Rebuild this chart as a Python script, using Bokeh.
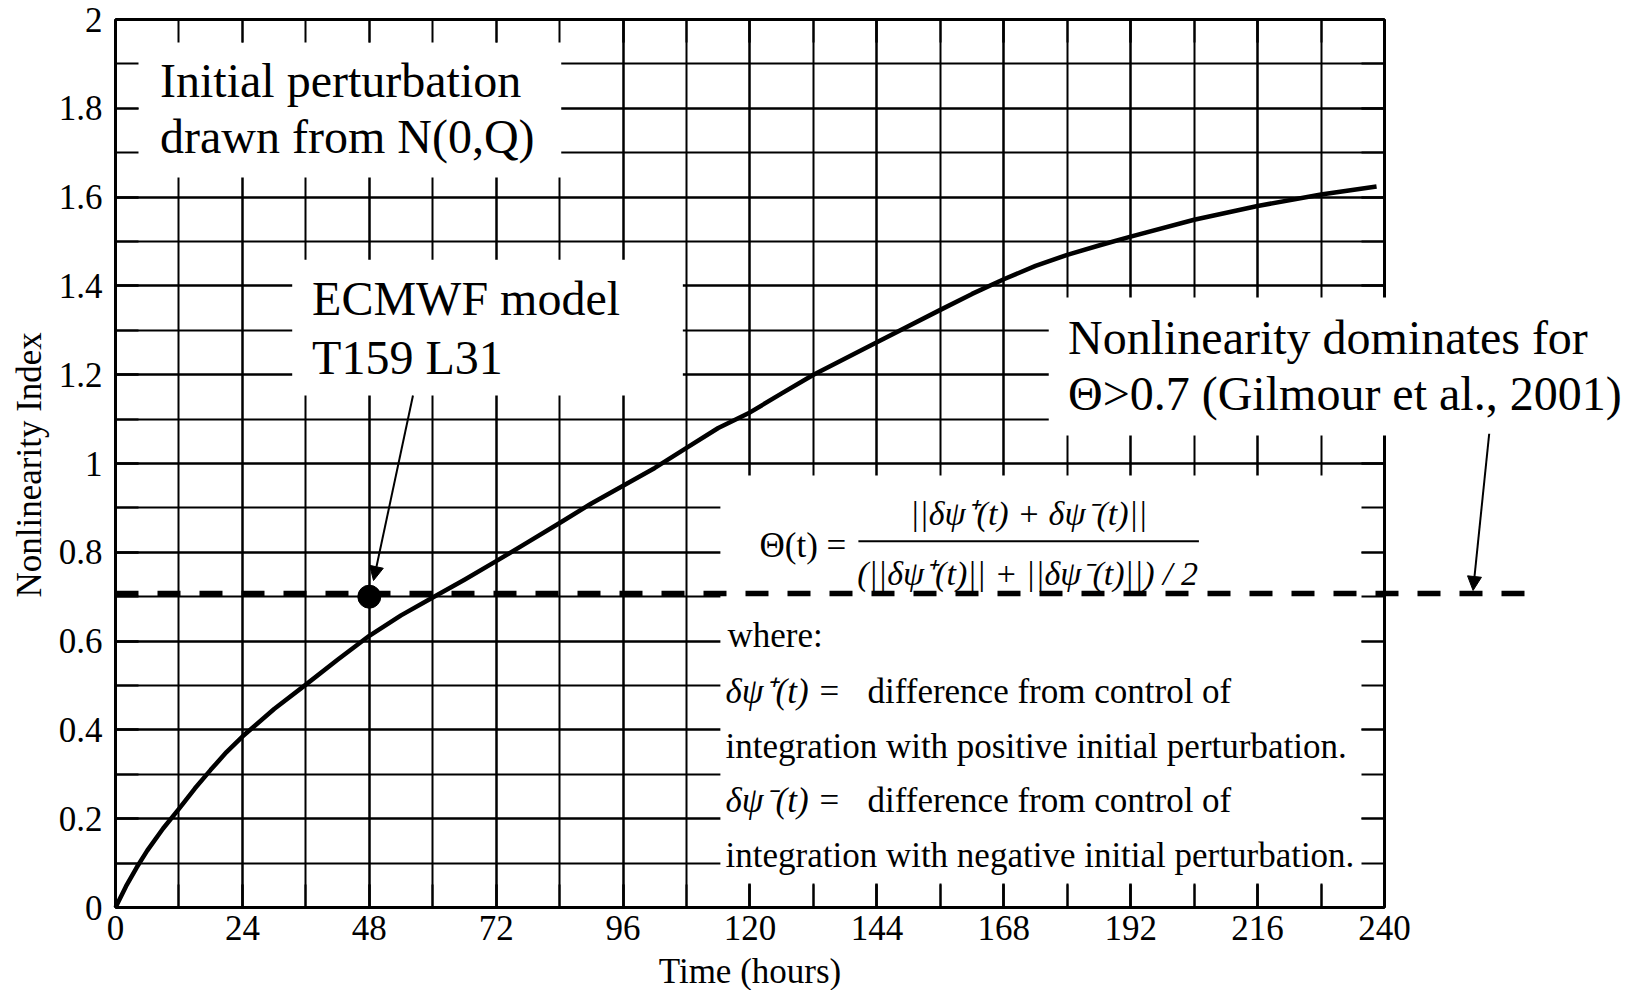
import math
from bokeh.plotting import figure
from bokeh.models import (LinearAxis, Range1d, SingleIntervalTicker, Label, Arrow,
                          NormalHead, BoxAnnotation, CustomJSTickFormatter)
from bokeh.embed import file_html
from bokeh.resources import INLINE

# ---------------- data ----------------
hours = [0, 2, 4, 6, 9, 12, 15, 18, 21, 24, 30, 36, 42, 48, 54, 60, 66, 72, 78, 84, 90, 96,
         102, 108, 114, 120, 126, 132, 144, 156, 162, 168, 174, 180, 186, 192, 204, 216, 228, 238.5]
nonlinearity_index = [0, 0.048, 0.09, 0.128, 0.178, 0.222, 0.268, 0.31, 0.35, 0.385, 0.447,
                      0.502, 0.558, 0.612, 0.658, 0.698, 0.738, 0.78, 0.823, 0.866, 0.91, 0.95,
                      0.99, 1.035, 1.08, 1.115, 1.158, 1.2, 1.273, 1.346, 1.382, 1.415, 1.445,
                      1.47, 1.491, 1.511, 1.549, 1.58, 1.606, 1.624]
threshold_index = 0.707
threshold_extent_hours = [0, 267]
ecmwf_point_hour = [48]
ecmwf_point_index = [0.70]

x_min, x_max = 0, 240
y_min, y_max = 0, 2
x_major_step, y_major_step = 24, 0.2
x_title = "Time (hours)"
y_title = "Nonlinearity Index"

FONT = "Liberation Serif"

# the frame spans the whole page; the axes are pinned at the data limits
p = figure(frame_width=1636, frame_height=990, output_backend="svg", toolbar_location=None,
           x_range=Range1d(-21.7494, 287.66), y_range=Range1d(-0.186937, 2.042793),
           min_border=0)
p.outline_line_color = None
p.background_fill_color = "white"
p.border_fill_color = "white"

xt = SingleIntervalTicker(interval=x_major_step, num_minor_ticks=2)
yt = SingleIntervalTicker(interval=y_major_step, num_minor_ticks=2)

bottom_axis = p.below[0]
left_axis = p.left[0]
bottom_axis.ticker = xt
bottom_axis.bounds = (x_min, x_max)
bottom_axis.fixed_location = y_min
left_axis.ticker = yt
left_axis.bounds = (y_min, y_max)
left_axis.fixed_location = x_min
left_axis.formatter = CustomJSTickFormatter(code="return tick.toFixed(1).replace(/\\.0$/, '');")

top_axis = LinearAxis(ticker=xt, bounds=(x_min, x_max), fixed_location=y_max,
                      formatter=CustomJSTickFormatter(code="return '';"))
right_axis = LinearAxis(ticker=yt, bounds=(y_min, y_max), fixed_location=x_max,
                        formatter=CustomJSTickFormatter(code="return '';"))
p.add_layout(top_axis, "above")
p.add_layout(right_axis, "right")

for ax in [bottom_axis, left_axis, top_axis, right_axis]:
    ax.axis_label = None
    ax.major_tick_in = 23
    ax.major_tick_out = 0
    ax.minor_tick_in = 23
    ax.minor_tick_out = 0
    ax.major_tick_line_width = 2
    ax.minor_tick_line_width = 2
    ax.major_tick_line_color = "black"
    ax.minor_tick_line_color = "black"
    ax.axis_line_width = 3
    ax.axis_line_color = "black"
    ax.major_label_text_font = FONT
    ax.major_label_text_font_size = "35px"
    ax.major_label_text_color = "black"

for ax in [top_axis, right_axis]:
    ax.major_label_text_font_size = "0px"
    ax.major_label_standoff = 0

bottom_axis.major_label_standoff = 8
left_axis.major_label_standoff = 13

xg, yg = p.xgrid[0], p.ygrid[0]
xg.ticker = xt
xg.bounds = (x_min, x_max)
yg.ticker = yt
yg.bounds = (y_min, y_max)
for g in [xg, yg]:
    g.grid_line_color = "black"
    g.grid_line_width = 2
    g.minor_grid_line_color = "black"
    g.minor_grid_line_width = 2

# keep the grid inside the plotting rectangle
try:
    xg.cross_bounds = (y_min, y_max)
    yg.cross_bounds = (x_min, x_max)
except AttributeError:
    FAR_L, FAR_R, FAR_B, FAR_T = -100, 400, -1, 3
    for l, r, b, t in [(FAR_L, x_min, FAR_B, FAR_T), (x_max, FAR_R, FAR_B, FAR_T),
                       (FAR_L, FAR_R, FAR_B, y_min), (FAR_L, FAR_R, y_max, FAR_T)]:
        p.add_layout(BoxAnnotation(left=l, right=r, bottom=b, top=t, fill_color="white",
                                   fill_alpha=1, line_color=None, level="underlay"))

# white text boxes that interrupt the grid
p.quad(left=[0, 33.42, 114.4], right=[84.3, 107.3, 240],
       bottom=[1.644, 1.153, 0.054], top=[2.0, 1.4588, 0.973],
       fill_color="white", line_color=None)

# curve
p.line(hours, nonlinearity_index, line_width=4.5, line_color="black", line_join="round")

# threshold dashed line (extends past the axes)
p.add_layout(Arrow(end=None, x_start=threshold_extent_hours[0], y_start=threshold_index,
                   x_end=threshold_extent_hours[1], y_end=threshold_index,
                   line_width=5.5, line_dash="23 19", line_color="black"))

# point
p.scatter(ecmwf_point_hour, ecmwf_point_index, size=23, color="black", level="overlay")

# box behind the right-hand note (covers right axis)
p.add_layout(BoxAnnotation(left=176.5, right=287.66, bottom=1.063, top=1.374,
                           fill_color="white", fill_alpha=1, line_color=None))

def lab(x, y, text, size="48px", style="normal", align="left", angle=0.0):
    p.add_layout(Label(x=x, y=y, text=text, text_font=FONT, text_font_size=size,
                       text_font_style=style, text_align=align, angle=angle,
                       text_baseline="alphabetic", text_color="black"))

# axis titles
lab(120, -0.145, x_title, size="35px", align="center")
lab(-16.2, 0.997, y_title, size="35px", align="center", angle=math.pi / 2)

lab(8.42, 1.863, "Initial perturbation")
lab(8.42, 1.736, "drawn from N(0,Q)")
lab(37.18, 1.3707, "ECMWF model")
lab(37.18, 1.2385, "T159 L31")
lab(180.14, 1.2828, "Nonlinearity dominates for")
lab(180.14, 1.1568, "Θ>0.7 (Gilmour et al., 2001)")

# formula
lab(121.8, 0.8142, "Θ(t) =", size="35px")
lab(172.7, 0.888, "||δψ⁺(t) + δψ⁻(t)||", size="34px", style="italic", align="center")
lab(172.5, 0.7529, "(||δψ⁺(t)|| + ||δψ⁻(t)||) / 2", size="34px", style="italic", align="center")
p.add_layout(Arrow(end=None, x_start=140.5, y_start=0.825, x_end=204.9, y_end=0.825,
                   line_width=2, line_color="black"))

lab(115.75, 0.612, "where:", size="35px")
lab(115.37, 0.4866, "δψ⁺(t) =", size="35px", style="italic")
lab(142.22, 0.4866, "difference from control of", size="35px")
lab(115.37, 0.3631, "integration with positive initial perturbation.", size="35px")
lab(115.37, 0.2399, "δψ⁻(t) =", size="35px", style="italic")
lab(142.22, 0.2399, "difference from control of", size="35px")
lab(115.37, 0.1165, "integration with negative initial perturbation.", size="35px")

# arrows
p.add_layout(Arrow(end=NormalHead(size=14, fill_color="black", line_color="black", line_width=1),
                   x_start=56.26, y_start=1.153, x_end=48.8, y_end=0.7365,
                   line_width=2, line_color="black"))
p.add_layout(Arrow(end=NormalHead(size=14, fill_color="black", line_color="black", line_width=1),
                   x_start=259.8, y_start=1.067, x_end=256.75, y_end=0.714,
                   line_width=2, line_color="black"))

open("out.html", "w").write(file_html(p, INLINE))
